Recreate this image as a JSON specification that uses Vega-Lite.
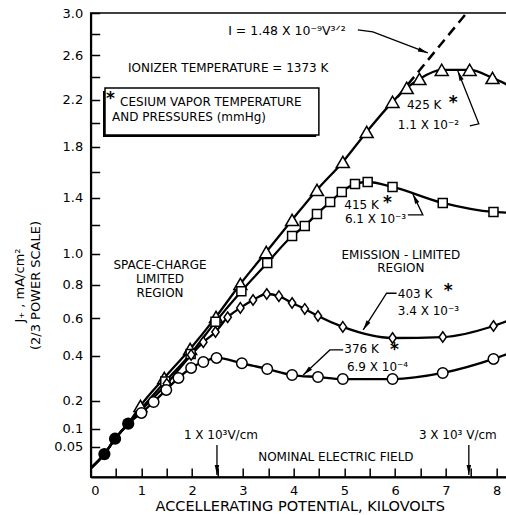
{
  "$schema": "https://vega.github.io/schema/vega-lite/v6.json",
  "width": 417,
  "height": 464,
  "autosize": {"type": "none"},
  "padding": {"left": 90.7, "top": 13, "right": 0, "bottom": 38},
  "background": "white",
  "config": {
    "font": "DejaVu Sans",
    "view": {"stroke": "black", "strokeWidth": 1.5},
    "axis": {
      "domainColor": "black", "domainWidth": 2,
      "tickColor": "black", "tickWidth": 1.5, "tickSize": -9,
      "labelPadding": 17, "labelColor": "black", "labelFontSize": 13,
      "titleColor": "black", "titleFontWeight": "normal", "grid": false
    },
    "text": {"font": "DejaVu Sans", "fontSize": 11, "color": "black"}
  },
  "datasets": {
    "curves": [
      {"s": "425 K", "k": "start", "kv": 0, "j": 0.0077},
      {"s": "425 K", "k": "shared", "kv": 0.27, "j": 0.033},
      {"s": "425 K", "k": "shared", "kv": 0.48, "j": 0.071},
      {"s": "425 K", "k": "shared", "kv": 0.74, "j": 0.117},
      {"s": "425 K", "k": "measured", "kv": 0.98, "j": 0.18},
      {"s": "425 K", "k": "measured", "kv": 1.45, "j": 0.296},
      {"s": "425 K", "k": "measured", "kv": 1.96, "j": 0.435},
      {"s": "425 K", "k": "measured", "kv": 2.47, "j": 0.608},
      {"s": "425 K", "k": "measured", "kv": 2.95, "j": 0.805},
      {"s": "425 K", "k": "measured", "kv": 3.46, "j": 1.013},
      {"s": "425 K", "k": "measured", "kv": 3.97, "j": 1.237},
      {"s": "425 K", "k": "measured", "kv": 4.46, "j": 1.46},
      {"s": "425 K", "k": "measured", "kv": 4.97, "j": 1.679},
      {"s": "425 K", "k": "measured", "kv": 5.44, "j": 1.924},
      {"s": "425 K", "k": "measured", "kv": 5.95, "j": 2.181},
      {"s": "425 K", "k": "measured", "kv": 6.23, "j": 2.304},
      {"s": "425 K", "k": "measured", "kv": 6.48, "j": 2.384},
      {"s": "425 K", "k": "measured", "kv": 6.92, "j": 2.466},
      {"s": "425 K", "k": "measured", "kv": 7.47, "j": 2.466},
      {"s": "425 K", "k": "measured", "kv": 7.92, "j": 2.393},
      {"s": "425 K", "k": "end", "kv": 8.22, "j": 2.33},
      {"s": "415 K", "k": "start", "kv": 0, "j": 0.0077},
      {"s": "415 K", "k": "shared", "kv": 0.27, "j": 0.033},
      {"s": "415 K", "k": "shared", "kv": 0.48, "j": 0.071},
      {"s": "415 K", "k": "shared", "kv": 0.74, "j": 0.117},
      {"s": "415 K", "k": "measured", "kv": 1.47, "j": 0.28},
      {"s": "415 K", "k": "measured", "kv": 1.97, "j": 0.41},
      {"s": "415 K", "k": "measured", "kv": 2.46, "j": 0.58},
      {"s": "415 K", "k": "measured", "kv": 2.97, "j": 0.76},
      {"s": "415 K", "k": "measured", "kv": 3.48, "j": 0.94},
      {"s": "415 K", "k": "measured", "kv": 3.97, "j": 1.123},
      {"s": "415 K", "k": "measured", "kv": 4.22, "j": 1.194},
      {"s": "415 K", "k": "measured", "kv": 4.46, "j": 1.281},
      {"s": "415 K", "k": "measured", "kv": 4.72, "j": 1.369},
      {"s": "415 K", "k": "measured", "kv": 4.95, "j": 1.445},
      {"s": "415 K", "k": "measured", "kv": 5.21, "j": 1.506},
      {"s": "415 K", "k": "measured", "kv": 5.46, "j": 1.521},
      {"s": "415 K", "k": "measured", "kv": 5.95, "j": 1.483},
      {"s": "415 K", "k": "measured", "kv": 6.94, "j": 1.362},
      {"s": "415 K", "k": "measured", "kv": 7.94, "j": 1.295},
      {"s": "415 K", "k": "end", "kv": 8.22, "j": 1.29},
      {"s": "403 K", "k": "start", "kv": 0, "j": 0.0077},
      {"s": "403 K", "k": "shared", "kv": 0.27, "j": 0.033},
      {"s": "403 K", "k": "shared", "kv": 0.48, "j": 0.071},
      {"s": "403 K", "k": "shared", "kv": 0.74, "j": 0.117},
      {"s": "403 K", "k": "measured", "kv": 1.5, "j": 0.27},
      {"s": "403 K", "k": "measured", "kv": 1.98, "j": 0.405},
      {"s": "403 K", "k": "measured", "kv": 2.22, "j": 0.47},
      {"s": "403 K", "k": "measured", "kv": 2.46, "j": 0.524},
      {"s": "403 K", "k": "measured", "kv": 2.7, "j": 0.606},
      {"s": "403 K", "k": "measured", "kv": 2.95, "j": 0.66},
      {"s": "403 K", "k": "measured", "kv": 3.2, "j": 0.707},
      {"s": "403 K", "k": "measured", "kv": 3.47, "j": 0.743},
      {"s": "403 K", "k": "measured", "kv": 3.71, "j": 0.73},
      {"s": "403 K", "k": "measured", "kv": 3.97, "j": 0.689},
      {"s": "403 K", "k": "measured", "kv": 4.22, "j": 0.654},
      {"s": "403 K", "k": "measured", "kv": 4.48, "j": 0.613},
      {"s": "403 K", "k": "measured", "kv": 4.97, "j": 0.552},
      {"s": "403 K", "k": "measured", "kv": 5.95, "j": 0.492},
      {"s": "403 K", "k": "measured", "kv": 6.94, "j": 0.497},
      {"s": "403 K", "k": "measured", "kv": 7.94, "j": 0.557},
      {"s": "403 K", "k": "end", "kv": 8.22, "j": 0.585},
      {"s": "376 K", "k": "start", "kv": 0, "j": 0.0077},
      {"s": "376 K", "k": "shared", "kv": 0.27, "j": 0.033},
      {"s": "376 K", "k": "shared", "kv": 0.48, "j": 0.071},
      {"s": "376 K", "k": "shared", "kv": 0.74, "j": 0.117},
      {"s": "376 K", "k": "measured", "kv": 1.0, "j": 0.154},
      {"s": "376 K", "k": "measured", "kv": 1.24, "j": 0.195},
      {"s": "376 K", "k": "measured", "kv": 1.49, "j": 0.244},
      {"s": "376 K", "k": "measured", "kv": 1.73, "j": 0.296},
      {"s": "376 K", "k": "measured", "kv": 1.98, "j": 0.342},
      {"s": "376 K", "k": "measured", "kv": 2.22, "j": 0.37},
      {"s": "376 K", "k": "measured", "kv": 2.48, "j": 0.39},
      {"s": "376 K", "k": "measured", "kv": 2.98, "j": 0.364},
      {"s": "376 K", "k": "measured", "kv": 3.48, "j": 0.337},
      {"s": "376 K", "k": "measured", "kv": 3.97, "j": 0.309},
      {"s": "376 K", "k": "measured", "kv": 4.48, "j": 0.3},
      {"s": "376 K", "k": "measured", "kv": 4.97, "j": 0.291},
      {"s": "376 K", "k": "measured", "kv": 5.95, "j": 0.291},
      {"s": "376 K", "k": "measured", "kv": 6.94, "j": 0.3185},
      {"s": "376 K", "k": "measured", "kv": 7.94, "j": 0.385},
      {"s": "376 K", "k": "end", "kv": 8.22, "j": 0.41}
    ],
    "theory": [
      {"kv": 6.05, "j": 2.224},
      {"kv": 7.41, "j": 3.0}
    ],
    "box": [
      {"part": "shadow", "kv": 0.2424, "kv2": 4.445, "j": 2.2774, "j2": 1.8827},
      {"part": "frame", "kv": 0.282, "kv2": 4.498, "j": 2.304, "j2": 1.8992}
    ],
    "leaders": [
      {"a": "A", "step": 1, "kv": 5.266, "j": 2.838},
      {"a": "A", "step": 2, "kv": 5.562, "j": 2.8188},
      {"a": "A", "step": 3, "kv": 6.646, "j": 2.6217},
      {"a": "B", "step": 1, "kv": 7.474, "j": 1.9747},
      {"a": "B", "step": 2, "kv": 7.651, "j": 1.9917},
      {"a": "B", "step": 3, "kv": 7.237, "j": 2.4565},
      {"a": "C", "step": 1, "kv": 6.252, "j": 1.2735},
      {"a": "C", "step": 2, "kv": 6.548, "j": 1.2735},
      {"a": "C", "step": 3, "kv": 6.35, "j": 1.4297},
      {"a": "D", "step": 1, "kv": 6.03, "j": 0.7477},
      {"a": "D", "step": 2, "kv": 5.833, "j": 0.7477},
      {"a": "D", "step": 3, "kv": 5.371, "j": 0.5352},
      {"a": "E", "step": 1, "kv": 4.977, "j": 0.4298},
      {"a": "E", "step": 2, "kv": 4.715, "j": 0.4298},
      {"a": "E", "step": 3, "kv": 4.189, "j": 0.3093},
      {"a": "F", "step": 1, "kv": 2.489, "j": 0.05436},
      {"a": "F", "step": 2, "kv": 2.489, "j": 0.00085},
      {"a": "G", "step": 1, "kv": 7.454, "j": 0.05436},
      {"a": "G", "step": 2, "kv": 7.454, "j": 0.00085}
    ],
    "heads": [
      {"a": "A", "kv": 6.646, "j": 2.6217, "heading": 111},
      {"a": "B", "kv": 7.237, "j": 2.4565, "heading": 338},
      {"a": "C", "kv": 6.35, "j": 1.4297, "heading": 334},
      {"a": "D", "kv": 5.371, "j": 0.5352, "heading": 212},
      {"a": "E", "kv": 4.189, "j": 0.3093, "heading": 227},
      {"a": "F", "kv": 2.489, "j": 0.00085, "heading": 180},
      {"a": "G", "kv": 7.454, "j": 0.00085, "heading": 180}
    ],
    "formula": [
      {"text": "I = 1.48 X 10⁻⁹V³ᐟ²", "kv": 2.71, "j": 2.828}
    ],
    "notes": [
      {"text": "IONIZER TEMPERATURE = 1373 K", "kv": 0.735, "j": 2.484},
      {"text": "CESIUM VAPOR TEMPERATURE", "kv": 0.58, "j": 2.18},
      {"text": "AND PRESSURES (mmHg)", "kv": 0.42, "j": 2.051},
      {"text": "425 K", "kv": 6.233, "j": 2.155},
      {"text": "1.1  X 10⁻²", "kv": 6.055, "j": 1.983},
      {"text": "415 K", "kv": 5.0, "j": 1.347},
      {"text": "6.1 X 10⁻³", "kv": 5.011, "j": 1.2444},
      {"text": "403 K", "kv": 6.055, "j": 0.7434},
      {"text": "3.4  X 10⁻³", "kv": 6.055, "j": 0.6423},
      {"text": "376 K", "kv": 5.0, "j": 0.4349},
      {"text": "6.9 X 10⁻⁴", "kv": 5.05, "j": 0.3464}
    ],
    "labels": [
      {"text": "EMISSION - LIMITED", "kv": 6.114, "j": 0.9933},
      {"text": "REGION", "kv": 6.114, "j": 0.9073},
      {"text": "SPACE-CHARGE", "kv": 1.366, "j": 0.9269},
      {"text": "LIMITED", "kv": 1.366, "j": 0.8367},
      {"text": "REGION", "kv": 1.366, "j": 0.7495},
      {"text": "1 X 10³V/cm", "kv": 2.567, "j": 0.0817},
      {"text": "3 X 10³ V/cm", "kv": 7.237, "j": 0.0817},
      {"text": "NOMINAL ELECTRIC FIELD", "kv": 4.833, "j": 0.02686}
    ],
    "stars": [
      {"kv": 0.3, "j": 2.2332},
      {"kv": 7.06, "j": 2.198},
      {"kv": 5.76, "j": 1.385},
      {"kv": 6.96, "j": 0.7802},
      {"kv": 5.9, "j": 0.4451}
    ]
  },
  "encoding": {
    "x": {
      "field": "kv", "type": "quantitative",
      "scale": {"domain": [0, 8.22], "nice": false, "zero": false},
      "axis": {
        "values": [0, 0.5, 1, 1.5, 2, 2.5, 3, 3.5, 4, 4.5, 5, 5.5, 6, 6.5, 7, 7.5, 8],
        "labelExpr": "datum.value % 1 == 0 ? format(datum.value, 'd') : ''",
        "title": "ACCELLERATING POTENTIAL, KILOVOLTS",
        "titleFontSize": 14.5, "titleX": 209, "titleY": 30, "titleBaseline": "middle"
      }
    },
    "y": {
      "field": "j", "type": "quantitative",
      "scale": {"type": "pow", "exponent": 0.666667, "domain": [0, 3], "nice": false},
      "axis": {
        "values": [0.05, 0.1, 0.2, 0.4, 0.6, 0.8, 1, 1.2, 1.4, 1.6, 1.8, 2, 2.2, 2.4, 2.6, 2.8, 3],
        "labelExpr": "indexof([1.2, 1.6, 2, 2.4, 2.8], datum.value) >= 0 ? '' : (datum.value == 0.05 ? '0.05' : format(datum.value, '.1f'))",
        "title": ["J₊ , mA/cm²", "(2/3 POWER SCALE)"],
        "titleFontSize": 13, "titleX": -71, "titleY": 272, "titleBaseline": "middle", "titleLineHeight": 16
      }
    }
  },
  "layer": [
    {
      "data": {"name": "box"},
      "transform": [{"filter": "datum.part == 'shadow'"}],
      "mark": {"type": "rect", "fill": "black"},
      "encoding": {"x2": {"field": "kv2"}, "y2": {"field": "j2"}}
    },
    {
      "data": {"name": "box"},
      "transform": [{"filter": "datum.part == 'frame'"}],
      "mark": {"type": "rect", "fill": "white", "stroke": "black", "strokeWidth": 1.5},
      "encoding": {"x2": {"field": "kv2"}, "y2": {"field": "j2"}}
    },
    {
      "data": {"name": "curves"},
      "mark": {"type": "line", "color": "black", "strokeWidth": 2.3, "interpolate": "monotone"},
      "encoding": {"detail": {"field": "s"}}
    },
    {
      "data": {"name": "theory"},
      "mark": {"type": "line", "color": "black", "strokeWidth": 2.5, "strokeDash": [10, 6]},
      "encoding": {}
    },
    {
      "data": {"name": "leaders"},
      "mark": {"type": "line", "color": "black", "strokeWidth": 1.3},
      "encoding": {"detail": {"field": "a"}, "order": {"field": "step"}}
    },
    {
      "data": {"name": "heads"},
      "mark": {"type": "point", "shape": "M0,0L0.45,2L-0.45,2Z", "filled": true, "color": "black", "size": 100, "opacity": 1},
      "encoding": {"angle": {"field": "heading", "type": "quantitative", "scale": null}}
    },
    {
      "data": {"name": "curves"},
      "transform": [{"filter": "datum.k == 'shared' && datum.s == '425 K'"}],
      "mark": {"type": "point", "shape": "circle", "filled": true, "color": "black", "size": 150, "opacity": 1},
      "encoding": {}
    },
    {
      "data": {"name": "curves"},
      "transform": [{"filter": "datum.k == 'measured'"}],
      "mark": {"type": "point", "fill": "white", "stroke": "black", "strokeWidth": 1.5, "opacity": 1, "fillOpacity": 1},
      "encoding": {
        "shape": {"field": "s", "type": "nominal", "legend": null,
          "scale": {"domain": ["425 K", "415 K", "403 K", "376 K"], "range": ["triangle-up", "square", "M0,-1L0.7,0L0,1L-0.7,0Z", "circle"]}},
        "size": {"field": "s", "type": "nominal", "legend": null,
          "scale": {"type": "ordinal", "domain": ["425 K", "415 K", "403 K", "376 K"], "range": [169, 81, 110, 110]}}
      }
    },
    {
      "data": {"name": "formula"},
      "mark": {"type": "text", "align": "left", "baseline": "middle", "fontSize": 12.5},
      "encoding": {"text": {"field": "text"}}
    },
    {
      "data": {"name": "notes"},
      "mark": {"type": "text", "align": "left", "baseline": "middle", "fontSize": 12},
      "encoding": {"text": {"field": "text"}}
    },
    {
      "data": {"name": "labels"},
      "mark": {"type": "text", "align": "center", "baseline": "middle", "fontSize": 12},
      "encoding": {"text": {"field": "text"}}
    },
    {
      "data": {"name": "stars"},
      "mark": {"type": "text", "align": "left", "baseline": "top", "fontSize": 17, "fontWeight": "bold", "dy": -5, "text": "*"},
      "encoding": {}
    }
  ]
}
